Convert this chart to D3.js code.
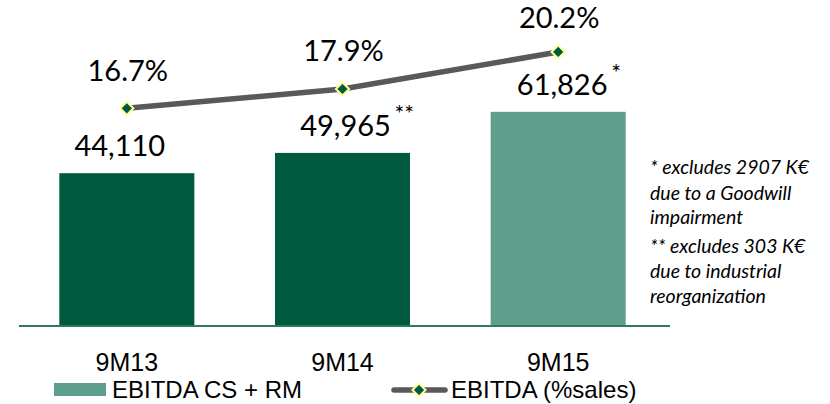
<!DOCTYPE html>
<html><head><meta charset="utf-8">
<script src="https://cdn.jsdelivr.net/npm/d3@7"></script>
<style>
html,body{margin:0;padding:0;background:#fff;}
svg{display:block;}
</style></head>
<body><svg id="c" width="830" height="404"></svg>
<script>
const categories = ["9M13", "9M14", "9M15"];
const ebitdaValues = [44110, 49965, 61826];
const ebitdaLabels = ["44,110", "49,965", "61,826"];
const ebitdaMarks = ["", "**", "*"];
const pctValues = [16.7, 17.9, 20.2];
const pctLabels = ["16.7%", "17.9%", "20.2%"];
const seriesNames = ["EBITDA CS + RM", "EBITDA (%sales)"];
const footnotes = [
  ["* excludes 2907 K€", "due to a Goodwill", "impairment"],
  ["** excludes 303 K€", "due to industrial", "reorganization"]
];

const DARK = "#005a3f", LIGHT = "#5f9e8c", LINE = "#595959", MARK_STROKE = "#ffff99";
const barColors = [DARK, DARK, LIGHT];
const labelDx = [-7, 3, 4];
const pctDy = [-27, -28, -24];

const svg = d3.select("#c");
const x = d3.scaleBand().domain(categories).range([19, 666]).paddingInner(0.374).paddingOuter(0.187);
const y = d3.scaleLinear().domain([0, 70000]).range([326, 83.5]);
const y2 = d3.scaleLinear().domain([0, 20]).range([377, 55.2]);
const cx = c => x(c) + x.bandwidth() / 2;

// bars
svg.selectAll("rect.bar").data(categories).enter().append("rect")
  .attr("x", d => x(d)).attr("width", x.bandwidth())
  .attr("y", (d, i) => y(ebitdaValues[i]))
  .attr("height", (d, i) => y(0) - y(ebitdaValues[i]))
  .attr("fill", (d, i) => barColors[i]);

// axis
const xAxis = svg.append("g").attr("transform", `translate(0,${y(0)})`)
  .call(d3.axisBottom(x).tickSize(0).tickPadding(27));
xAxis.select(".domain").attr("stroke", "#2f7a5c").attr("stroke-width", 2).attr("d", "M19,0H670");
xAxis.selectAll("text").attr("font-family", "'Liberation Sans', Arial, sans-serif")
  .attr("font-size", 25).attr("fill", "#000").attr("dy", "0.71em");

// value labels
const lblFont = "Lato, 'Open Sans', sans-serif";
svg.selectAll("text.val").data(categories).enter().append("text")
  .attr("x", (d, i) => cx(d) + labelDx[i])
  .attr("y", (d, i) => y(ebitdaValues[i]) - 17)
  .attr("text-anchor", "middle").attr("font-family", lblFont).attr("font-size", 29)
  .attr("fill", "#000").text((d, i) => ebitdaLabels[i]);
svg.selectAll("text.mark").data(categories).enter().append("text")
  .attr("x", (d, i) => cx(d) + labelDx[i] + 49)
  .attr("y", (d, i) => y(ebitdaValues[i]) - 31)
  .attr("font-family", lblFont).attr("font-size", 23)
  .attr("fill", "#000").text((d, i) => ebitdaMarks[i]);

// line
const line = d3.line().x((d, i) => cx(categories[i])).y(d => y2(d));
svg.append("path").datum(pctValues).attr("d", line)
  .attr("fill", "none").attr("stroke", LINE).attr("stroke-width", 5.5);
const diamond = d3.symbol().type(d3.symbolDiamond2).size(110);
svg.selectAll("path.pt").data(pctValues).enter().append("path")
  .attr("d", diamond)
  .attr("transform", (d, i) => `translate(${cx(categories[i])},${y2(d)})`)
  .attr("fill", DARK).attr("stroke", MARK_STROKE).attr("stroke-width", 2);
svg.selectAll("text.pct").data(pctValues).enter().append("text")
  .attr("x", (d, i) => cx(categories[i]) + 1)
  .attr("y", (d, i) => y2(d) + pctDy[i])
  .attr("text-anchor", "middle").attr("font-family", lblFont).attr("font-size", 29)
  .attr("fill", "#000").text((d, i) => pctLabels[i]);

// legend
const leg = svg.append("g").attr("font-family", "'Liberation Sans', Arial, sans-serif").attr("font-size", 24);
leg.append("rect").attr("x", 54).attr("y", 383).attr("width", 52).attr("height", 13).attr("fill", LIGHT);
leg.append("text").attr("x", 112).attr("y", 398).text(seriesNames[0]);
leg.append("line").attr("x1", 394).attr("x2", 445).attr("y1", 390).attr("y2", 390)
  .attr("stroke", LINE).attr("stroke-width", 5.5).attr("stroke-linecap", "round");
leg.append("path").attr("d", diamond).attr("transform", "translate(419,390)")
  .attr("fill", DARK).attr("stroke", MARK_STROKE).attr("stroke-width", 2);
leg.append("text").attr("x", 451).attr("y", 398).text(seriesNames[1]);

// footnotes
const fn = svg.append("g").attr("font-family", lblFont).attr("font-style", "italic")
  .attr("font-size", 19.5).attr("fill", "#000");
const fnY = [[174, 200, 224], [253, 278, 303]];
footnotes.forEach((g, gi) => g.forEach((t, li) => {
  fn.append("text").attr("x", 650).attr("y", fnY[gi][li]).text(t);
}));
</script></body></html>
